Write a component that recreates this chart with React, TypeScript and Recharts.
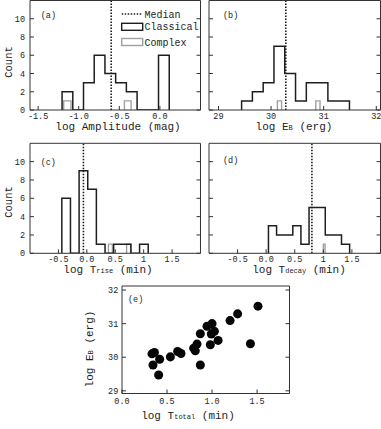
import React from 'react';
import { ComposedChart, Line, Scatter, XAxis, YAxis, ZAxis, ReferenceLine } from 'recharts';

const FONT = '"Liberation Mono", "Courier New", monospace';
const INK = '#1e1e1e';
const FRAME = '#333';
const GRAY = '#a0a0a0';

// (a) log Amplitude (mag)
const ampEdges = [-1.205, -1.073, -0.941, -0.809, -0.677, -0.545, -0.413, -0.281, -0.149, -0.017, 0.115];
const ampClassical = [2, 0, 3, 6, 4, 3, 2, 0, 0, 6];
const ampComplexFrom = [-1.185, -0.437];
const ampComplexTo = [-1.095, -0.355];
const ampComplex = [1, 1];
const ampMedian = -0.6;
const ampTicks = [-1.5, -1.0, -0.5, 0.0];
const ampTickLabels = ['-1.5', '-1.0', '-0.5', '0.0'];

// (b) log E_B (erg)
const ebEdges = [29.44, 29.645, 29.85, 30.055, 30.26, 30.465, 30.67, 30.875, 31.08, 31.285, 31.49];
const ebClassical = [1, 2, 3, 7, 4, 1, 3, 3, 1, 1];
const ebComplexFrom = [30.12, 30.85];
const ebComplexTo = [30.2, 30.93];
const ebComplex = [1, 1];
const ebMedian = 30.28;
const ebTicks = [29, 30, 31, 32];
const ebTickLabels = ['29', '30', '31', '32'];

// (c) log T_rise (min)
const riseEdges = [-0.44, -0.288, -0.136, 0.016, 0.168, 0.32, 0.472, 0.624, 0.776, 0.928, 1.08];
const riseClassical = [6, 0, 9, 7, 1, 0, 1, 1, 0, 1];
const riseComplexFrom = [0.38, 0.7];
const riseComplexTo = [0.45, 0.77];
const riseComplex = [1, 1];
const riseMedian = -0.06;

// (d) log T_decay (min)
const decayEdges = [0.04, 0.182, 0.324, 0.466, 0.608, 0.75, 0.892, 1.034, 1.176, 1.318, 1.46];
const decayClassical = [3, 2, 2, 3, 1, 5, 5, 2, 2, 1];
const decayComplexFrom = [1.0];
const decayComplexTo = [1.03];
const decayComplex = [1];
const decayMedian = 0.8;

const timeTicks = [-0.5, 0, 0.5, 1, 1.5];
const timeTickLabels = ['-0.5', '0.0', '0.5', '1', '1.5'];

const countTicks = [0, 2, 4, 6, 8, 10];
const countTickLabels = ['0', '2', '4', '6', '8', '10'];

// (e) log T_total vs log E_B
const tTotal = [0.333, 0.36, 0.344, 0.418, 0.407, 0.537, 0.618, 0.655, 0.796, 0.833, 0.814, 0.87, 0.87, 0.944, 1.0, 0.992, 1.026, 0.981, 1.067, 1.2, 1.284, 1.426, 1.51];
const logEb = [30.1, 30.14, 29.77, 29.94, 29.47, 30.01, 30.17, 30.11, 30.27, 30.39, 30.19, 30.7, 29.77, 30.92, 31.0, 30.69, 30.77, 30.37, 30.5, 31.09, 31.29, 30.4, 31.52];
const totalTicks = [0, 0.5, 1, 1.5];
const totalTickLabels = ['0.0', '0.5', '1.0', '1.5'];
const energyTicks = [29, 30, 31, 32];
const energyTickLabels = ['29', '30', '31', '32'];

const legendLabels = ['Median', 'Classical', 'Complex'];

// outline of a histogram, drawn with a stepAfter line
const stepData = (edges: number[], counts: number[]) => {
  const pts = [{ x: edges[0], y: 0 }];
  counts.forEach((c, i) => pts.push({ x: edges[i], y: c }));
  pts.push({ x: edges[edges.length - 1], y: 0 });
  return pts;
};
const boxData = (from: number, to: number, h: number) => [
  { x: from, y: 0 },
  { x: from, y: h },
  { x: to, y: 0 },
];

const histSeries = (
  edges: number[], counts: number[],
  from: number[], to: number[], heights: number[], median: number
) => [
  ...from.map((f, i) => (
    <Line key={`cx${i}`} data={boxData(f, to[i], heights[i])} dataKey="y" type="stepAfter"
      stroke={GRAY} strokeWidth={1.4} dot={false} activeDot={false} isAnimationActive={false} />
  )),
  <Line key="cl" data={stepData(edges, counts)} dataKey="y" type="stepAfter"
    stroke={INK} strokeWidth={1.5} dot={false} activeDot={false} isAnimationActive={false} />,
  <ReferenceLine key="md" x={median} stroke={INK} strokeWidth={1.6} strokeDasharray="1.5 1.5" />,
];

type Box = { left: number; top: number; width: number; height: number; mt: number; mr: number; yw: number; xh: number };

const labelFor = (ticks: number[], labels?: string[]) => (v: number) => {
  const i = ticks.indexOf(v);
  return labels && i >= 0 ? labels[i] : '';
};

const tickStyle = { fontSize: 8.5, fill: INK, fontFamily: FONT };

const Panel = ({ box, xDomain, xTicks, xLabels, xTm, yDomain, yTicks, yLabels, yTm, decor, children }: any) => {
  const overlay = () => (
    <g transform={`translate(${-box.left},${-box.top})`} fontFamily={FONT} fill={INK}>{decor}</g>
  );
  return (
    <div style={{ position: 'absolute', left: box.left, top: box.top, width: box.width, height: box.height }}>
      <ComposedChart width={box.width} height={box.height} margin={{ top: box.mt, right: box.mr, left: 0, bottom: 0 }}>
        <XAxis type="number" dataKey="x" domain={xDomain} ticks={xTicks} interval={0} allowDataOverflow
          height={box.xh} stroke={FRAME} tickSize={-4} tickMargin={xTm}
          tickFormatter={labelFor(xTicks, xLabels)} tick={tickStyle} />
        <XAxis xAxisId="t" orientation="top" type="number" domain={xDomain} ticks={xTicks} interval={0} allowDataOverflow
          height={1} stroke={FRAME} tickSize={-4} tickFormatter={() => ''} label={overlay} />
        <YAxis type="number" dataKey="y" domain={yDomain} ticks={yTicks} interval={0} allowDataOverflow
          width={box.yw} stroke={FRAME} tickSize={-4} tickMargin={yTm}
          tickFormatter={labelFor(yTicks, yLabels)} tick={tickStyle} />
        <YAxis yAxisId="r" orientation="right" type="number" domain={yDomain} ticks={yTicks} interval={0} allowDataOverflow
          width={1} stroke={FRAME} tickSize={-4} tickFormatter={() => ''} />
        {children}
      </ComposedChart>
    </div>
  );
};

const boxA: Box = { left: 0, top: -1, width: 203.5, height: 141, mt: 0.5, mr: 2, yw: 30, xh: 30 };
const boxB: Box = { left: 207, top: -1, width: 175, height: 141, mt: 0.5, mr: 0.5, yw: 2, xh: 30 };
const boxC: Box = { left: 0, top: 141, width: 203.5, height: 142.3, mt: 1.3, mr: 2, yw: 30, xh: 30 };
const boxD: Box = { left: 207, top: 141, width: 175, height: 142.3, mt: 1.3, mr: 0.5, yw: 2, xh: 30 };
const boxE: Box = { left: 82, top: 284, width: 210.5, height: 144.5, mt: 1, mr: 2, yw: 40, xh: 35 };

const SUB = 7;

export default function App() {
  const scatterData = tTotal.map((x, i) => ({ x, y: logEb[i] }));
  return (
    <div style={{ position: 'fixed', left: 0, top: 0, width: 381, height: 429, background: '#fff', overflow: 'hidden' }}>
      <Panel box={boxA} xDomain={[-1.6, 0.5]} xTicks={ampTicks} xLabels={ampTickLabels} xTm={6.5}
        yDomain={[0, 12]} yTicks={countTicks} yLabels={countTickLabels} yTm={9}
        decor={<>
          <text x={40.7} y={18} fontSize={8.5}>(a)</text>
          <line x1={121.7} x2={141.7} y1={14} y2={14} stroke={INK} strokeWidth={1.6} strokeDasharray="1.5 1.5" />
          <text x={144.5} y={17.5} fontSize={10}>{legendLabels[0]}</text>
          <rect x={121.7} y={23.3} width={21} height={7} fill="none" stroke={INK} strokeWidth={1.4} />
          <text x={144.5} y={30.2} fontSize={10}>{legendLabels[1]}</text>
          <rect x={121.7} y={38.5} width={21} height={7} fill="none" stroke={GRAY} strokeWidth={1.4} />
          <text x={144.5} y={45.5} fontSize={10}>{legendLabels[2]}</text>
          <text x={118} y={130} textAnchor="middle" fontSize={11}>log Amplitude (mag)</text>
          <text transform="translate(11.5,62) rotate(-90)" textAnchor="middle" fontSize={10.5}>Count</text>
        </>}>
        {histSeries(ampEdges, ampClassical, ampComplexFrom, ampComplexTo, ampComplex, ampMedian)}
      </Panel>

      <Panel box={boxB} xDomain={[28.82, 32.08]} xTicks={ebTicks} xLabels={ebTickLabels} xTm={6.5}
        yDomain={[0, 12]} yTicks={countTicks} yTm={9}
        decor={<>
          <text x={223} y={18} fontSize={8.5}>(b)</text>
          <text x={294} y={130} textAnchor="middle" fontSize={11}>log E<tspan fontSize={SUB}>B</tspan> (erg)</text>
        </>}>
        {histSeries(ebEdges, ebClassical, ebComplexFrom, ebComplexTo, ebComplex, ebMedian)}
      </Panel>

      <Panel box={boxC} xDomain={[-1, 2]} xTicks={timeTicks} xLabels={timeTickLabels} xTm={6.5}
        yDomain={[0, 12]} yTicks={countTicks} yLabels={countTickLabels} yTm={9}
        decor={<>
          <text x={40.7} y={165} fontSize={8.5}>(c)</text>
          <text x={108} y={273.5} textAnchor="middle" fontSize={11}>log T<tspan fontSize={SUB}>rise</tspan> (min)</text>
          <text transform="translate(11.5,202) rotate(-90)" textAnchor="middle" fontSize={10.5}>Count</text>
        </>}>
        {histSeries(riseEdges, riseClassical, riseComplexFrom, riseComplexTo, riseComplex, riseMedian)}
      </Panel>

      <Panel box={boxD} xDomain={[-1, 2]} xTicks={timeTicks} xLabels={timeTickLabels} xTm={6.5}
        yDomain={[0, 12]} yTicks={countTicks} yTm={9}
        decor={<>
          <text x={223} y={163} fontSize={8.5}>(d)</text>
          <text x={299} y={273.5} textAnchor="middle" fontSize={11}>log T<tspan fontSize={SUB}>decay</tspan> (min)</text>
        </>}>
        {histSeries(decayEdges, decayClassical, decayComplexFrom, decayComplexTo, decayComplex, decayMedian)}
      </Panel>

      <Panel box={boxE} xDomain={[0, 1.86]} xTicks={totalTicks} xLabels={totalTickLabels} xTm={8.5}
        yDomain={[28.92, 32.12]} yTicks={energyTicks} yLabels={energyTickLabels} yTm={7.7}
        decor={<>
          <text x={128} y={302} fontSize={8.5}>(e)</text>
          <text x={188} y={419} textAnchor="middle" fontSize={11}>log T<tspan fontSize={SUB}>total</tspan> (min)</text>
          <text transform="translate(93,349) rotate(-90)" textAnchor="middle" fontSize={11}>log E<tspan fontSize={SUB}>B</tspan> (erg)</text>
        </>}>
        <ZAxis range={[42, 42]} />
        <Scatter data={scatterData} fill="#050505" isAnimationActive={false} />
      </Panel>
    </div>
  );
}
